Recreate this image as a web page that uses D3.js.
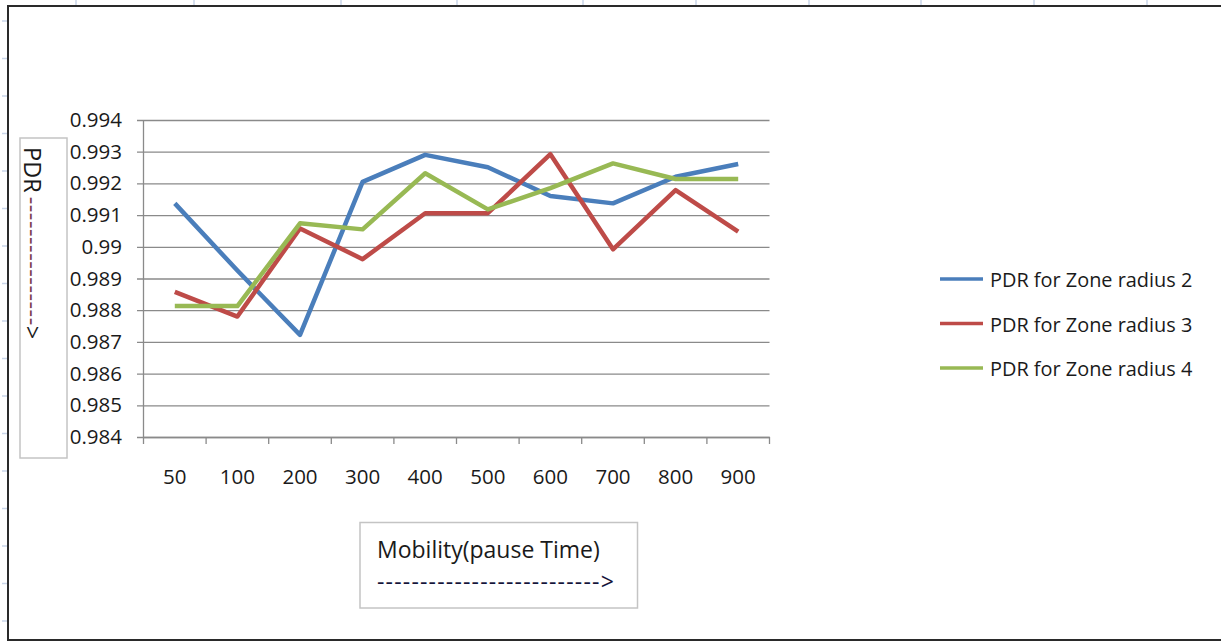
<!DOCTYPE html>
<html>
<head>
<meta charset="utf-8">
<script src="https://cdn.jsdelivr.net/npm/d3@7/dist/d3.min.js"></script>
<style>
  html, body { margin: 0; padding: 0; background: #fff; }
  svg { display: block; font-family: "Open Sans", "Noto Sans", sans-serif; }
</style>
</head>
<body>
<svg id="chart" width="1221" height="642"></svg>
<script>
// Pause times (x categories)
const pauseTimes = ["50", "100", "200", "300", "400", "500", "600", "700", "800", "900"];

// Packet delivery ratio per zone radius
const pdrZone2 = [0.99137, 0.98925, 0.98722, 0.99205, 0.99290, 0.99251, 0.99160, 0.99137, 0.99221, 0.99261];
const pdrZone3 = [0.98858, 0.98780, 0.99058, 0.98961, 0.99106, 0.99106, 0.99292, 0.98992, 0.99179, 0.99048];
const pdrZone4 = [0.98813, 0.98813, 0.99074, 0.99055, 0.99232, 0.99118, 0.99185, 0.99263, 0.99214, 0.99214];

const seriesNames = ["PDR for Zone radius 2", "PDR for Zone radius 3", "PDR for Zone radius 4"];
const seriesColors = ["#4a7ebb", "#be4b48", "#98b954"];

// Y axis ticks
const yTickValues = [0.984, 0.985, 0.986, 0.987, 0.988, 0.989, 0.99, 0.991, 0.992, 0.993, 0.994];
const yTickLabels = ["0.984", "0.985", "0.986", "0.987", "0.988", "0.989", "0.99", "0.991", "0.992", "0.993", "0.994"];

const series = [pdrZone2, pdrZone3, pdrZone4];

const svg = d3.select("#chart");

// ---- worksheet frame with faint column / row marks ----
const sheetColumnEdges = [76, 194, 341, 457, 583, 696, 809, 921, 1034, 1147];
svg.append("g").selectAll("line").data(sheetColumnEdges).join("line")
  .attr("x1", d => d).attr("x2", d => d).attr("y1", 0).attr("y2", 5)
  .attr("stroke", "#c9d5e8").attr("stroke-width", 1.5);
svg.append("g").selectAll("line").data(d3.range(21, 640, 37.5)).join("line")
  .attr("x1", 2).attr("x2", 7).attr("y1", d => d).attr("y2", d => d)
  .attr("stroke", "#c9d5e8").attr("stroke-width", 1.5);

svg.append("path")
  .attr("d", "M1221,6 L8,6 L8,640 L1221,640")
  .attr("fill", "none").attr("stroke", "#2a2a2a").attr("stroke-width", 2);

// ---- scales ----
const plotLeft = 143.5, plotRight = 769.5, plotTop = 120, plotBottom = 437;

const x = d3.scaleBand().domain(pauseTimes).range([plotLeft, plotRight]).padding(0);
const y = d3.scaleLinear().domain([0.984, 0.994]).range([plotBottom, plotTop]);

const axisColor = "#8a8a8a";
const textColor = "#1a1a1a";

// ---- gridlines + y axis labels (ticks run from the right edge to past the axis) ----
const yAxis = d3.axisLeft(y)
  .tickValues(yTickValues)
  .tickFormat((d, i) => yTickLabels[i])
  .tickSize(plotRight - 137)
  .tickPadding(15);

const gy = svg.append("g")
  .attr("transform", `translate(${plotRight},0)`)
  .call(yAxis);
gy.select(".domain").remove();
gy.selectAll(".tick line").attr("stroke", axisColor).attr("stroke-width", 1.3);
gy.selectAll(".tick text")
  .attr("fill", textColor)
  .style("font-size", "20.5px")
  .style("font-family", "'Open Sans', sans-serif");

// vertical axis line
svg.append("line")
  .attr("x1", plotLeft).attr("x2", plotLeft)
  .attr("y1", plotTop).attr("y2", plotBottom)
  .attr("stroke", axisColor).attr("stroke-width", 1.3);

// ---- x axis: tick marks at category boundaries, labels at category centres ----
const xAxis = d3.axisBottom(x).tickSize(0).tickPadding(32.5);
const gx = svg.append("g")
  .attr("transform", `translate(0,${plotBottom})`)
  .call(xAxis);
gx.select(".domain")
  .attr("stroke", axisColor).attr("stroke-width", 1.3);
gx.selectAll(".tick text")
  .attr("fill", textColor)
  .style("font-size", "20.5px")
  .style("font-family", "'Open Sans', sans-serif");

const boundaries = pauseTimes.map(c => x(c)).concat([x.range()[1]]);
gx.append("g").selectAll("line").data(boundaries).join("line")
  .attr("x1", d => d).attr("x2", d => d)
  .attr("y1", 0).attr("y2", 7)
  .attr("stroke", axisColor).attr("stroke-width", 1.3);

// ---- series lines ----
const line = d3.line()
  .x((d, i) => x(pauseTimes[i]) + x.bandwidth() / 2)
  .y(d => y(d));

svg.append("g").selectAll("path").data(series).join("path")
  .attr("d", d => line(d))
  .attr("fill", "none")
  .attr("stroke", (d, i) => seriesColors[i])
  .attr("stroke-width", 4.5)
  .attr("stroke-linejoin", "round")
  .attr("stroke-linecap", "butt");

// ---- legend ----
const legend = svg.append("g").attr("transform", "translate(940,279)");
const legendItems = legend.selectAll("g").data(seriesNames).join("g")
  .attr("transform", (d, i) => `translate(0,${i * 44.5})`);
legendItems.append("line")
  .attr("x1", 0).attr("x2", 43).attr("y1", 0).attr("y2", 0)
  .attr("stroke", (d, i) => seriesColors[i])
  .attr("stroke-width", 3.5);
legendItems.append("text")
  .attr("x", 50).attr("y", 8)
  .attr("fill", textColor)
  .style("font-size", "19.9px")
  .text(d => d);

// ---- y axis title box ----
svg.append("rect")
  .attr("x", 20).attr("y", 138).attr("width", 47).attr("height", 320)
  .attr("fill", "#fff").attr("stroke", "#c4c4c4").attr("stroke-width", 1.5);
const yTitle = svg.append("text")
  .attr("transform", "translate(23.5,147) rotate(90)")
  .attr("fill", textColor)
  .style("font-size", "23.5px");
yTitle.append("tspan").text("PDR");
yTitle.append("tspan")
  .attr("dx", 4)
  .attr("fill", "#7a3b4b")
  .style("letter-spacing", "0.5px")
  .text("----------------");
yTitle.append("tspan").text(">");

// ---- x axis title box ----
svg.append("rect")
  .attr("x", 360).attr("y", 522.5).attr("width", 277.5).attr("height", 85.5)
  .attr("fill", "#fff").attr("stroke", "#c4c4c4").attr("stroke-width", 1.5);
svg.append("text")
  .attr("x", 377).attr("y", 558)
  .attr("fill", textColor)
  .style("font-size", "23px")
  .text("Mobility(pause Time)");
const xArrow = svg.append("text")
  .attr("x", 377).attr("y", 589.5)
  .attr("fill", "#14143a")
  .style("font-size", "23px");
xArrow.append("tspan").style("letter-spacing", "1.2px").text("--------------------------");
xArrow.append("tspan").text(">");
</script>
</body>
</html>
